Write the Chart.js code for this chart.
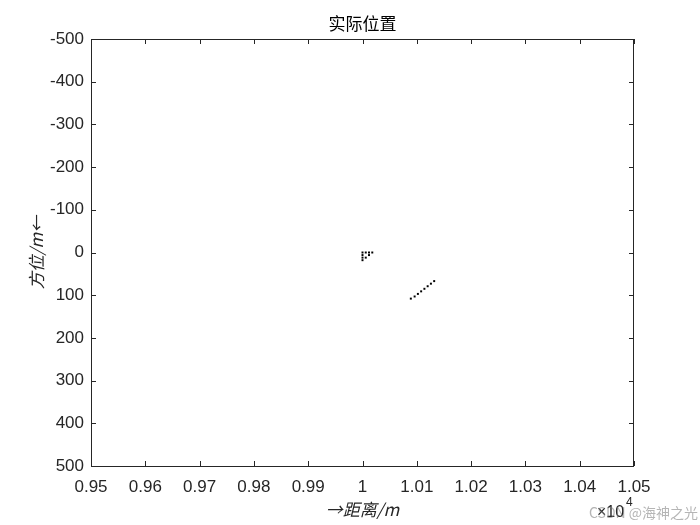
<!DOCTYPE html>
<html>
<head>
<meta charset="utf-8">
<script src="https://cdn.jsdelivr.net/npm/chart.js@4/dist/chart.umd.min.js"></script>
<style>
  body { margin: 0; background: #fff; }
  canvas { display: block; }
</style>
</head>
<body>
<canvas id="chart" width="700" height="525"></canvas>
<script>
// Values: distance (m) and azimuth (m)
const distX = [10000, 10006, 10012, 10018, 10000, 10012, 10000, 10006, 10000,
               10089, 10096, 10102, 10108, 10114, 10120, 10126, 10132];
const azimY = [0, 0, 0, 0, 6, 6, 12, 12, 18,
               108, 103, 97, 91, 85, 79, 73, 67];

const xTicks = [9500, 9600, 9700, 9800, 9900, 10000, 10100, 10200, 10300, 10400, 10500];
const yTicks = [-500, -400, -300, -200, -100, 0, 100, 200, 300, 400, 500];

const titleText = "实际位置";
const xTitle = "→距离/m";
const yTitle = "方位/m←";

const axisColor = "#262626";
const tickFont = { family: "'Liberation Sans', Arial, sans-serif", size: 17 };

const points = distX.map((x, i) => ({ x: x, y: azimY[i] }));

// box, inward ticks and texts, like the matlab axes
const matlabBox = {
  id: "matlabBox",
  afterDraw(chart) {
    const c = chart.ctx;
    const a = chart.chartArea;
    const sx = chart.scales.x, sy = chart.scales.y;
    c.save();
    c.strokeStyle = axisColor;
    c.lineWidth = 1;
    c.strokeRect(a.left + 0.5, a.top + 0.5, a.right - a.left - 1, a.bottom - a.top);
    c.beginPath();
    xTicks.forEach(v => {
      const px = Math.round(sx.getPixelForValue(v)) + 0.5;
      c.moveTo(px, a.bottom); c.lineTo(px, a.bottom - 5);
      c.moveTo(px, a.top); c.lineTo(px, a.top + 5);
    });
    yTicks.forEach(v => {
      const py = Math.round(sy.getPixelForValue(v)) + 0.5;
      c.moveTo(a.left, py); c.lineTo(a.left + 5, py);
      c.moveTo(a.right, py); c.lineTo(a.right - 5, py);
    });
    c.stroke();

    c.fillStyle = "#000";
    c.textAlign = "center";
    c.textBaseline = "middle";
    c.font = "17px 'Noto Sans CJK SC'";
    c.fillText(titleText, (a.left + a.right) / 2, 24);

    c.fillStyle = axisColor;
    c.font = "italic 17px 'Noto Sans CJK SC'";
    c.fillText(xTitle, (a.left + a.right) / 2, 510);

    c.save();
    c.translate(37, (a.top + a.bottom) / 2);
    c.rotate(-Math.PI / 2);
    c.fillText(yTitle, 0, 0);
    c.restore();

    // exponent
    c.textAlign = "left";
    c.font = "16px 'Liberation Sans', Arial, sans-serif";
    c.fillText("×10", 597, 513);
    c.font = "12px 'Liberation Sans', Arial, sans-serif";
    c.fillText("4", 626, 503);

    // watermark
    c.fillStyle = "rgba(120,120,120,0.55)";
    c.font = "14px 'Noto Sans CJK SC'";
    c.fillText("CSDN @海神之光", 589, 513);
    c.restore();
  }
};

new Chart(document.getElementById("chart"), {
  type: "scatter",
  data: {
    datasets: [
      {
        label: "实际位置",
        data: points,
        pointStyle: "rect",
        pointRadius: 1.4,
        backgroundColor: "#000",
        borderColor: "#000",
        borderWidth: 0,
      },
    ],
  },
  options: {
    responsive: false,
    animation: false,
    layout: { padding: { top: 39, right: 66, bottom: 0, left: 0 } },
    plugins: {
      legend: { display: false },
      tooltip: { enabled: false },
    },
    scales: {
      x: {
        type: "linear",
        min: 9500,
        max: 10500,
        afterFit: s => { s.height = 59; },
        afterBuildTicks: s => { s.ticks = xTicks.map(v => ({ value: v })); },
        grid: { display: false, drawTicks: false },
        border: { display: false },
        ticks: {
          color: axisColor,
          font: tickFont,
          padding: 11,
          autoSkip: false,
          maxRotation: 0,
          callback: v => String(parseFloat((v / 10000).toFixed(2))),
        },
      },
      y: {
        type: "linear",
        reverse: true,
        min: -500,
        max: 500,
        afterFit: s => { s.width = 91; },
        afterBuildTicks: s => { s.ticks = yTicks.map(v => ({ value: v })); },
        grid: { display: false, drawTicks: false },
        border: { display: false },
        ticks: {
          color: axisColor,
          font: tickFont,
          padding: 7,
          autoSkip: false,
        },
      },
    },
  },
  plugins: [matlabBox],
});
</script>
</body>
</html>
